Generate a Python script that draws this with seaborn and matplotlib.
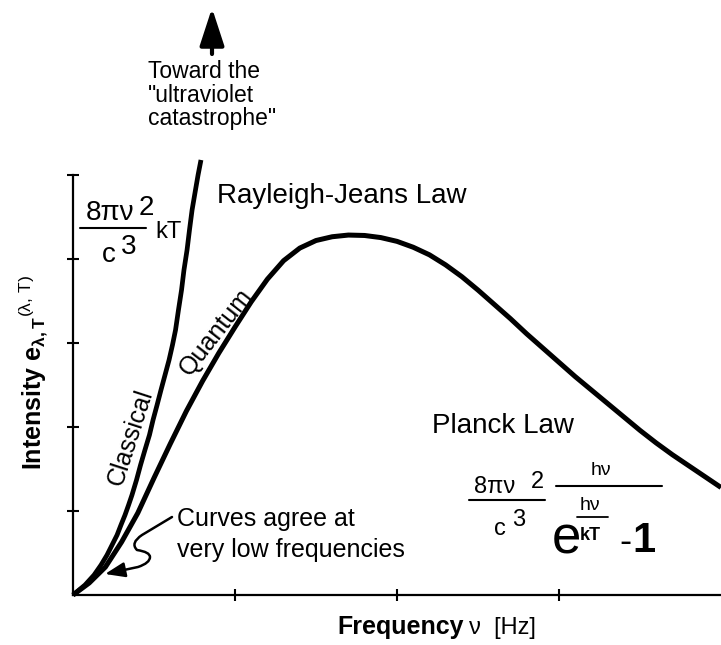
import matplotlib
matplotlib.use("Agg")
import matplotlib.pyplot as plt
import pandas as pd
import seaborn as sns
from matplotlib.lines import Line2D
from matplotlib.patches import FancyArrowPatch
from matplotlib.path import Path

# Classical (Rayleigh-Jeans) intensity vs. frequency, arbitrary units
freq_classical = [0.0, 0.074, 0.130, 0.173, 0.210, 0.241, 0.272, 0.296, 0.321, 0.343,
                  0.364, 0.392, 0.417, 0.444, 0.472, 0.494, 0.519, 0.543, 0.568, 0.593,
                  0.614, 0.633, 0.651, 0.670, 0.685, 0.704, 0.719, 0.735, 0.756, 0.772,
                  0.790]
intensity_classical = [0.0, 0.119, 0.238, 0.357, 0.476, 0.595, 0.714, 0.833, 0.952, 1.071,
                       1.190, 1.369, 1.548, 1.726, 1.905, 2.083, 2.262, 2.440, 2.619, 2.798,
                       2.976, 3.155, 3.393, 3.631, 3.869, 4.107, 4.345, 4.583, 4.821, 5.000,
                       5.179]

# Quantum (Planck) intensity vs. frequency, arbitrary units
freq_planck = [0.0, 0.1, 0.2, 0.3, 0.4, 0.5, 0.6, 0.7, 0.8, 0.9,
               1.0, 1.1, 1.2, 1.3, 1.4, 1.5, 1.6, 1.7, 1.8, 1.9,
               2.0, 2.1, 2.2, 2.3, 2.4, 2.5, 2.6, 2.7, 2.8, 2.9,
               3.0, 3.1, 3.2, 3.3, 3.4, 3.5, 3.6, 3.7, 3.8, 3.9, 4.0]
intensity_planck = [0.0, 0.143, 0.333, 0.631, 0.976, 1.393, 1.798, 2.190, 2.548, 2.880,
                    3.190, 3.490, 3.760, 3.980, 4.130, 4.220, 4.265, 4.285, 4.280, 4.255,
                    4.210, 4.140, 4.050, 3.930, 3.790, 3.630, 3.460, 3.290, 3.110, 2.940,
                    2.770, 2.600, 2.440, 2.280, 2.120, 1.960, 1.810, 1.670, 1.540, 1.410,
                    1.280]

x_ticks = [1, 2, 3]
y_ticks = [1, 2, 3, 4, 5]

sns.set_theme(style="white")
plt.rcParams["font.family"] = ["Liberation Sans", "DejaVu Sans"]
plt.rcParams["mathtext.fontset"] = "custom"
plt.rcParams["mathtext.rm"] = "Liberation Sans"
plt.rcParams["mathtext.it"] = "Liberation Sans"
plt.rcParams["mathtext.bf"] = "Liberation Sans:bold"

W, H = 721, 645
fig = plt.figure(figsize=(W / 100, H / 100), dpi=100)
fig.patch.set_facecolor("white")
ax = fig.add_axes([73 / W, 50 / H, 648 / W, 453.6 / H])

classical = pd.DataFrame({"freq": freq_classical, "intensity": intensity_classical})
planck = pd.DataFrame({"freq": freq_planck, "intensity": intensity_planck})

sns.lineplot(data=classical, x="freq", y="intensity", sort=False, estimator=None,
             color="black", lw=3.4, ax=ax, clip_on=False,
             solid_capstyle="butt", solid_joinstyle="round")
sns.lineplot(data=planck, x="freq", y="intensity", sort=False, estimator=None,
             color="black", lw=3.6, ax=ax, clip_on=False,
             solid_capstyle="butt", solid_joinstyle="round")

ax.set_xlim(0, 4)
ax.set_ylim(0, 5.4)
ax.set_xticks(x_ticks)
ax.set_yticks(y_ticks)
ax.set_xlabel("")
ax.set_ylabel("")
for side in ("top", "right"):
    ax.spines[side].set_visible(False)
for side in ("left", "bottom"):
    ax.spines[side].set_color("black")
    ax.spines[side].set_linewidth(1.6)
ax.spines["left"].set_bounds(0, 5)
ax.tick_params(axis="both", direction="inout", length=9, width=1.5, color="black",
               left=True, bottom=True, labelleft=False, labelbottom=False)


def put(x, y, s, size, **kw):
    """Place text at pixel position (x from left, y from top) on the figure."""
    kw.setdefault("ha", "left")
    kw.setdefault("va", "baseline")
    fig.text(x / W, 1 - y / H, s, fontsize=size, color="black", **kw)


def bar(x0, x1, y, lw=1.5):
    fig.add_artist(Line2D([x0 / W, x1 / W], [1 - y / H, 1 - y / H],
                          transform=fig.transFigure, color="black", lw=lw))


# Axis labels
put(33, 372, r"Intensity e$_{\mathbf{\lambda,T}}$${}^{(\lambda,\,T)}$", 18,
    fontweight="bold", rotation=90, ha="center", va="center")
put(337, 634, "Frequency", 18, fontweight="bold")
put(469, 634, "ν  [Hz]", 17)

# Arrow pointing off the top of the chart
fig.add_artist(FancyArrowPatch((212 / W, 1 - 54 / H), (212 / W, 1 - 8 / H),
                               transform=fig.transFigure,
                               arrowstyle="-|>,head_length=2.3,head_width=0.75",
                               mutation_scale=10, lw=3, color="black",
                               shrinkA=0, shrinkB=0))
put(148, 78, "Toward the", 16.5)
put(148, 102, "\"ultraviolet", 16.5)
put(148, 125, "catastrophe\"", 16.5)

put(217, 203, "Rayleigh-Jeans Law", 20)

# Rayleigh-Jeans formula
put(86, 220, "8πν", 20)
put(139, 215, "2", 20)
bar(80, 146, 228)
put(102, 262, "c", 20)
put(121, 254, "3", 20)
put(155, 238, "kT", 17)

# Curve labels
put(131, 437, "Classical", 18, rotation=72, ha="center", va="center",
    rotation_mode="anchor")
put(216, 332, "Quantum", 18, rotation=52, ha="center", va="center",
    rotation_mode="anchor")

# Low-frequency note with squiggly arrow
put(177, 526, "Curves agree at", 18)
put(177, 557, "very low frequencies", 18)
pts = [(172, 517), (142, 535), (130, 543), (137, 550), (150, 552), (150, 557),
       (150, 563), (138, 567), (105, 574)]
codes = [Path.MOVETO, Path.LINETO, Path.CURVE3, Path.CURVE3, Path.CURVE3, Path.CURVE3,
         Path.CURVE3, Path.CURVE3, Path.LINETO]
squiggle = Path([(x / W, 1 - y / H) for x, y in pts], codes)
fig.add_artist(FancyArrowPatch(path=squiggle, transform=fig.transFigure,
                               arrowstyle="-|>,head_length=1.2,head_width=0.45",
                               mutation_scale=10, lw=1.8, color="black"))

# Planck formula
put(432, 433, "Planck Law", 20)
put(474, 493, "8πν", 17)
put(531, 488, "2", 17)
bar(469, 545, 500)
put(494, 535, "c", 17)
put(512, 526, "3", 17)
put(591, 475, "hν", 14)
bar(556, 662, 486)
put(580, 510, "hν", 14)
bar(577, 608, 517, lw=1.3)
put(552, 553, "e", 38)
put(580, 540, "kT", 13, fontweight="bold")
put(619, 552, "-", 26)
put(632, 552, "1", 30, fontweight="bold")

fig.savefig("out.png", dpi=100, facecolor="white")
